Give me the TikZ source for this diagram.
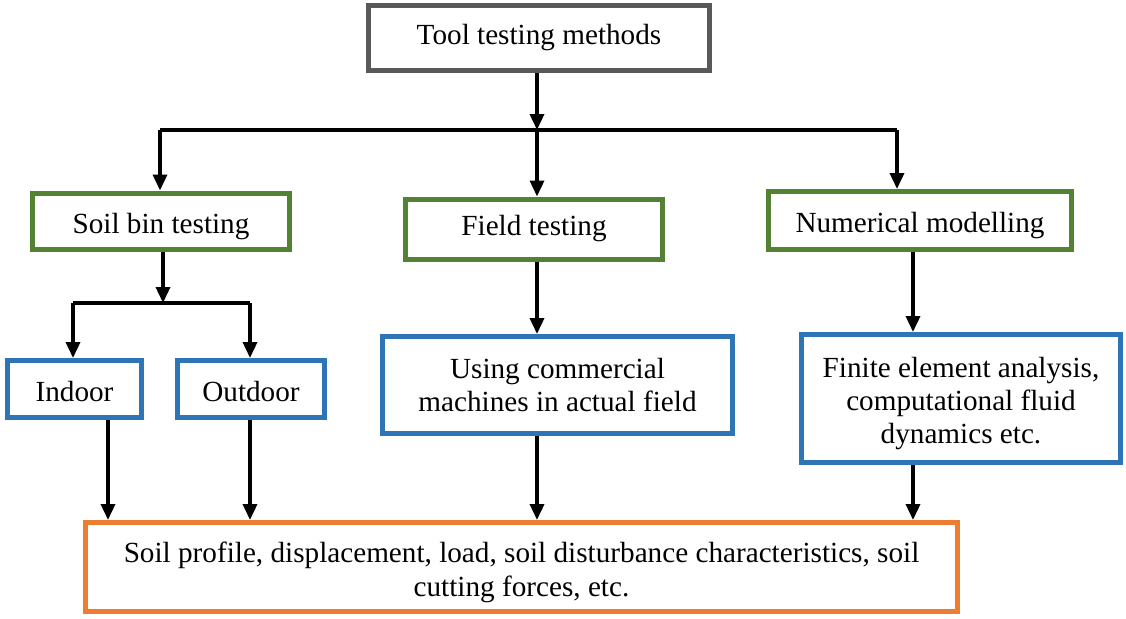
\documentclass[tikz,border=0pt]{standalone}
\usepackage{fontspec}
\setmainfont{Liberation Serif}
\usepackage{tikz}
\usetikzlibrary{arrows.meta,positioning,calc}
\usepackage{xcolor}
\definecolor{boxgray}{HTML}{595959}
\definecolor{boxgreen}{HTML}{548235}
\definecolor{boxblue}{HTML}{2E75B6}
\definecolor{boxorange}{HTML}{ED7D31}
\newcommand{\boxstrut}{\rule[-0.22em]{0pt}{1.27em}}

\begin{document}
\begin{tikzpicture}[x=0.5pt,y=-0.5pt]
\useasboundingbox (0,0) rectangle (1126,618);
\begin{scope}[every node/.style={rectangle,draw,line width=2.5pt,fill=white,align=center,inner sep=0pt,font=\fontsize{14.6}{16.6}\selectfont}]
	\node[draw=boxgray,minimum width=170.5pt,minimum height=32.5pt] (tool) at (539,38) {Tool testing methods};

	\node[draw=boxgreen,minimum width=128.5pt,minimum height=28pt] (soilbin) at (161,221) {\boxstrut Soil bin testing};
	\node[draw=boxgreen,minimum width=128.5pt,minimum height=30pt] (field) at (534,229) {Field testing};
	\node[draw=boxgreen,minimum width=151.5pt,minimum height=29pt] (numerical) at (920,220.5) {\boxstrut Numerical modelling};

	\node[draw=boxblue,minimum width=67pt,minimum height=28.5pt] (indoor) at (74.5,389) {\boxstrut Indoor};
	\node[draw=boxblue,minimum width=73.5pt,minimum height=28.5pt] (outdoor) at (251,389) {\boxstrut Outdoor};
	\node[draw=boxblue,minimum width=175pt,minimum height=48.5pt] (using) at (557.5,385) {Using commercial\\
	machines in actual field};
	\node[draw=boxblue,minimum width=159.5pt,minimum height=64pt] (fea) at (961,398.5) {\boxstrut Finite element analysis,\\
	computational fluid\\
	dynamics etc.};

	\node[draw=boxorange,minimum width=436pt,minimum height=44.5pt,font=\fontsize{14.6}{17}\selectfont] (result) at (521.5,567) {\boxstrut Soil profile, displacement, load, soil disturbance characteristics, soil\\
	cutting forces, etc.};
\end{scope}

\begin{scope}[line width=1.75pt]
	\coordinate (split) at (537,130);
	\coordinate (splitL) at (160,130);
	\coordinate (splitR) at (897,130);
	\coordinate (binsplit) at (163,303);
	\coordinate (binL) at (73,303);
	\coordinate (binR) at (250,303);
	\coordinate (colA) at (108,470);
	\coordinate (colD) at (913,470);

	\draw[-{Triangle[length=8pt,width=7pt]}] (tool.south -| split) -- (split);
	\draw (splitL) -- (splitR);
	\draw[-{Triangle[length=8pt,width=7pt]}] (splitL) -- (splitL |- soilbin.north);
	\draw[-{Triangle[length=8pt,width=7pt]}] (split) -- (split |- field.north);
	\draw[-{Triangle[length=8pt,width=7pt]}] (splitR) -- (splitR |- numerical.north);

	\draw[-{Triangle[length=8pt,width=7pt]}] (soilbin.south -| binsplit) -- (binsplit);
	\draw (binL) -- (binR);
	\draw[-{Triangle[length=8pt,width=7pt]}] (binL) -- (binL |- indoor.north);
	\draw[-{Triangle[length=8pt,width=7pt]}] (binR) -- (binR |- outdoor.north);

	\draw[-{Triangle[length=8pt,width=7pt]}] (field.south -| split) -- (split |- using.north);
	\draw[-{Triangle[length=8pt,width=7pt]}] (numerical.south -| colD) -- (colD |- fea.north);

	\draw[-{Triangle[length=8pt,width=7pt]}] (indoor.south -| colA) -- (colA |- result.north);
	\draw[-{Triangle[length=8pt,width=7pt]}] (outdoor.south -| binR) -- (binR |- result.north);
	\draw[-{Triangle[length=8pt,width=7pt]}] (using.south -| split) -- (split |- result.north);
	\draw[-{Triangle[length=8pt,width=7pt]}] (fea.south -| colD) -- (colD |- result.north);
\end{scope}
\end{tikzpicture}
\end{document}
